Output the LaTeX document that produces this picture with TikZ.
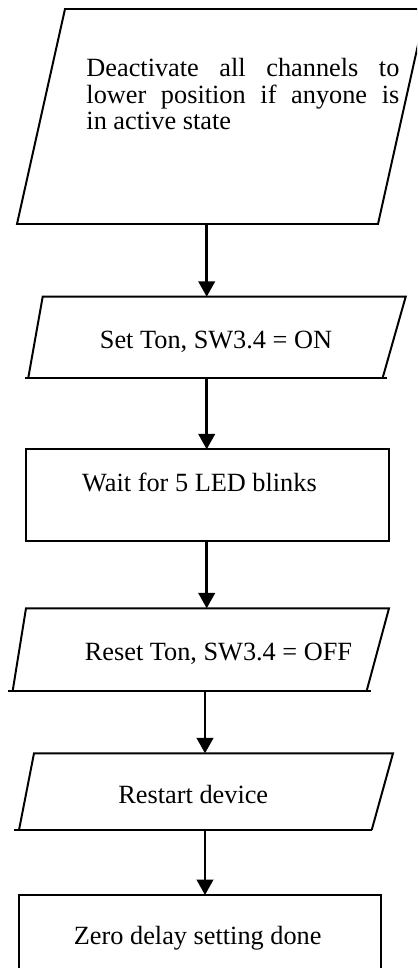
\documentclass[tikz,border=0pt]{standalone}
\usepackage{fontspec}
\setmainfont{Liberation Serif}
\usetikzlibrary{arrows.meta}
\begin{document}
\begin{tikzpicture}[x=0.4563pt,y=-0.4563pt,
  box/.style={draw=black, line width=0.9pt, line join=miter},
  flow/.style={-{Triangle[width=7.5pt,length=7pt]}, line width=1.1pt},
  lbl/.style={inner sep=0pt, anchor=base, font=\fontsize{12}{12.2}\selectfont}]
\useasboundingbox (0,0) rectangle (417,968);
\begin{scope}
\clip (0,0) rectangle (417,968);
% shape 1
\draw[box] (65,9) -- (426,9) -- (378,224) -- (17,224) -- cycle;
\coordinate (s1b) at (206.7,224);
\node[inner sep=0pt, anchor=base west, text width=142.8pt, align=justify,
  font=\fontsize{12}{12.2}\selectfont] (t1) at (86,76.5)
  {\noindent Deactivate all channels to\linebreak lower position if anyone is\linebreak in active state};
% shape 2
\draw[box] (28.3,377.7) -- (42.7,296.7) -- (405.7,296.7) -- (382.7,377.7);
\draw[box] (25,377.7) -- (386.7,377.7);
\coordinate (s2t) at (206.7,296.7);
\coordinate (s2b) at (206.7,377.7);
\node[lbl] (t2) at (216,348) {Set Ton, SW3.4 = ON};
% shape 3
\draw[box] (26,449.3) rectangle (389,540.7);
\coordinate (s3t) at (206.7,449.3);
\coordinate (s3b) at (206.7,540.7);
\node[lbl] (t3) at (199.5,491.7) {Wait for 5 LED blinks};
% shape 4
\draw[box] (12.7,690.7) -- (26,608.3) -- (389,608.3) -- (366.7,690.7);
\draw[box] (8.3,690.7) -- (371,690.7);
\coordinate (s4t) at (206.7,608.3);
\coordinate (s4b) at (205,690.7);
\node[lbl] (t4) at (218.5,660) {Reset Ton, SW3.4 = OFF};
% shape 5
\draw[box] (19,830) -- (34,753.3) -- (393,753.3) -- (371.7,830);
\draw[box] (14.3,830) -- (371.7,830);
\coordinate (s5t) at (205,753.3);
\coordinate (s5b) at (205,830);
\node[lbl] (t5) at (193.3,803) {Restart device};
% shape 6
\draw[box] (19,895) rectangle (381,985);
\coordinate (s6t) at (205,895);
\node[lbl] (t6) at (197.7,944.5) {Zero delay setting done};
% connectors
\draw[flow] (s1b) -- (s2t);
\draw[flow] (s2b) -- (s3t);
\draw[flow] (s3b) -- (s4t);
\draw[flow] (s4b) -- (s5t);
\draw[flow] (s5b) -- (s6t);
\end{scope}
\end{tikzpicture}
\end{document}
